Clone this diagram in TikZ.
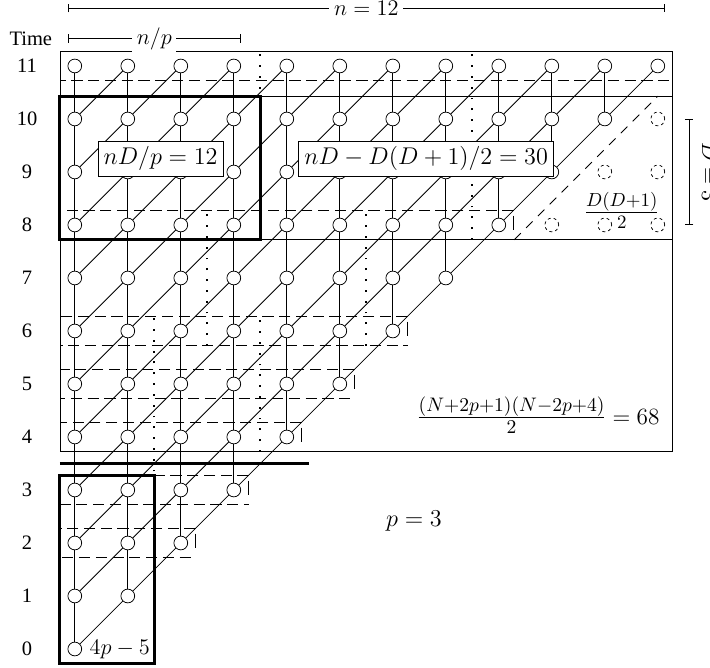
\RequirePackage{fix-cm}
\documentclass[tikz,border=0pt]{standalone}
\usepackage{fontspec}
\setmainfont{Liberation Serif}
\usetikzlibrary{arrows.meta}

\begin{document}
\begin{tikzpicture}[
  font=\fontsize{11}{13}\selectfont,
  vertex/.style={draw,circle,fill=white,inner sep=0pt,minimum size=2.6mm},
  ghost/.style={vertex,dash pattern=on 1.6pt off 1.6pt},
  rowband/.style={dash pattern=on 6pt off 3pt},
  rowband end/.style={dash pattern=on 7.5pt off 8.5pt,dash phase=13pt},
  boundary/.style={dash pattern=on 5pt off 4pt},
  procsep/.style={line width=1pt,dash pattern=on 1pt off 4.8pt},
  bold/.style={line width=1.6pt},
  math label/.style={font=\fontsize{13}{15}\selectfont},
  count label/.style={math label,draw,fill=white,inner sep=3pt},
  span/.style={{Bar[width=4.5pt]}-{Bar[width=4.5pt]}},
  span label/.style={font=\large,fill=white,inner sep=2.5pt}
]
\useasboundingbox (-1.411,-0.358) rectangle (11.985,12.245);

% frames of the three phases
\draw (-0.28,3.72) rectangle (11.28,7.72);
\draw (-0.28,7.72) rectangle (11.28,10.42);
\draw (-0.28,10.42) rectangle (11.28,11.28);

% rows with communication
\foreach \t in {2,3,4,5,6,8,11} {
  \draw[rowband] (\t+0.28,\t+0.28) -- (-0.28,\t+0.28) -- (-0.28,\t-0.28) -- (\t+0.28,\t-0.28);
  \draw[rowband end] (\t+0.28,\t+0.28) -- (\t+0.28,\t-0.28);
}

% processor borders
\foreach \x/\lo/\hi in {3.5/7.72/11.28,7.5/7.72/11.28,2.5/5.72/8.28,5.5/5.72/8.28,1.5/1.72/6.28,3.5/3.72/6.28}
  \draw[procsep] (\x,\lo) -- (\x,\hi);

% grid
\foreach \t in {0,...,11}
  \foreach \i in {0,...,\t}
    \node[vertex] (n\i-\t) at (\i,\t) {};
\foreach \i/\t in {9/8,10/8,11/8,10/9,11/9,11/10}
  \node[ghost] (g\i-\t) at (\i,\t) {};

\foreach \t in {0,...,10}
  \foreach \i in {0,...,\t} {
    \pgfmathtruncatemacro\up{\t+1}
    \pgfmathtruncatemacro\nx{\i+1}
    \draw (n\i-\t) -- (n\i-\up);
    \draw (n\i-\t) -- (n\nx-\up);
  }

\draw[boundary] (8.29,7.72) -- (11,10.43);

% blocks
\draw[bold] (-0.28,7.72) rectangle (3.5,10.42);
\draw[bold] (-0.28,-0.28) rectangle (1.5,3.28);
\draw[bold] (-0.28,3.5) -- (4.42,3.5);

% labels
\node[count label] (blk) at (1.62,9.25) {$nD/p = 12$};
\node[count label] (rest) at (6.63,9.25) {$nD - D(D+1)/2 = 30$};
\node[font=\fontsize{14.5}{17}\selectfont] (tri) at (10.32,8.27) {$\frac{D(D+1)}{2}$};
\node[font=\fontsize{12.5}{15}\selectfont] (tot) at (8.74,4.41)
  {{\fontsize{15}{17}\selectfont$\frac{(N+2p+1)(N-2p+4)}{2}$} $= 68$};
\node[math label] (proc) at (6.4,2.42) {$p = 3$};
\node[font=\large] (lead) at (0.85,0) {$4p - 5$};

\node (time) at (-0.83,11.52) {Time};
\foreach \t in {0,...,11}
  \node (t\t) at (-0.9,\t) {\t};

\coordinate (nl) at (-0.125,12.09);
\coordinate (nr) at (11.125,12.09);
\draw[span] (nl) -- node[span label] {$n = 12$} (nr);
\coordinate (pl) at (-0.125,11.52);
\coordinate (pr) at (3.125,11.52);
\draw[span] (pl) -- node[span label] {$n/p$} (pr);
\coordinate (db) at (11.59,8);
\coordinate (dt) at (11.59,10);
\draw[span] (db) -- (dt);
\node[rotate=-90,anchor=south,font=\large] (dlab) at (11.71,9) {$D = 3$};
\end{tikzpicture}
\end{document}
